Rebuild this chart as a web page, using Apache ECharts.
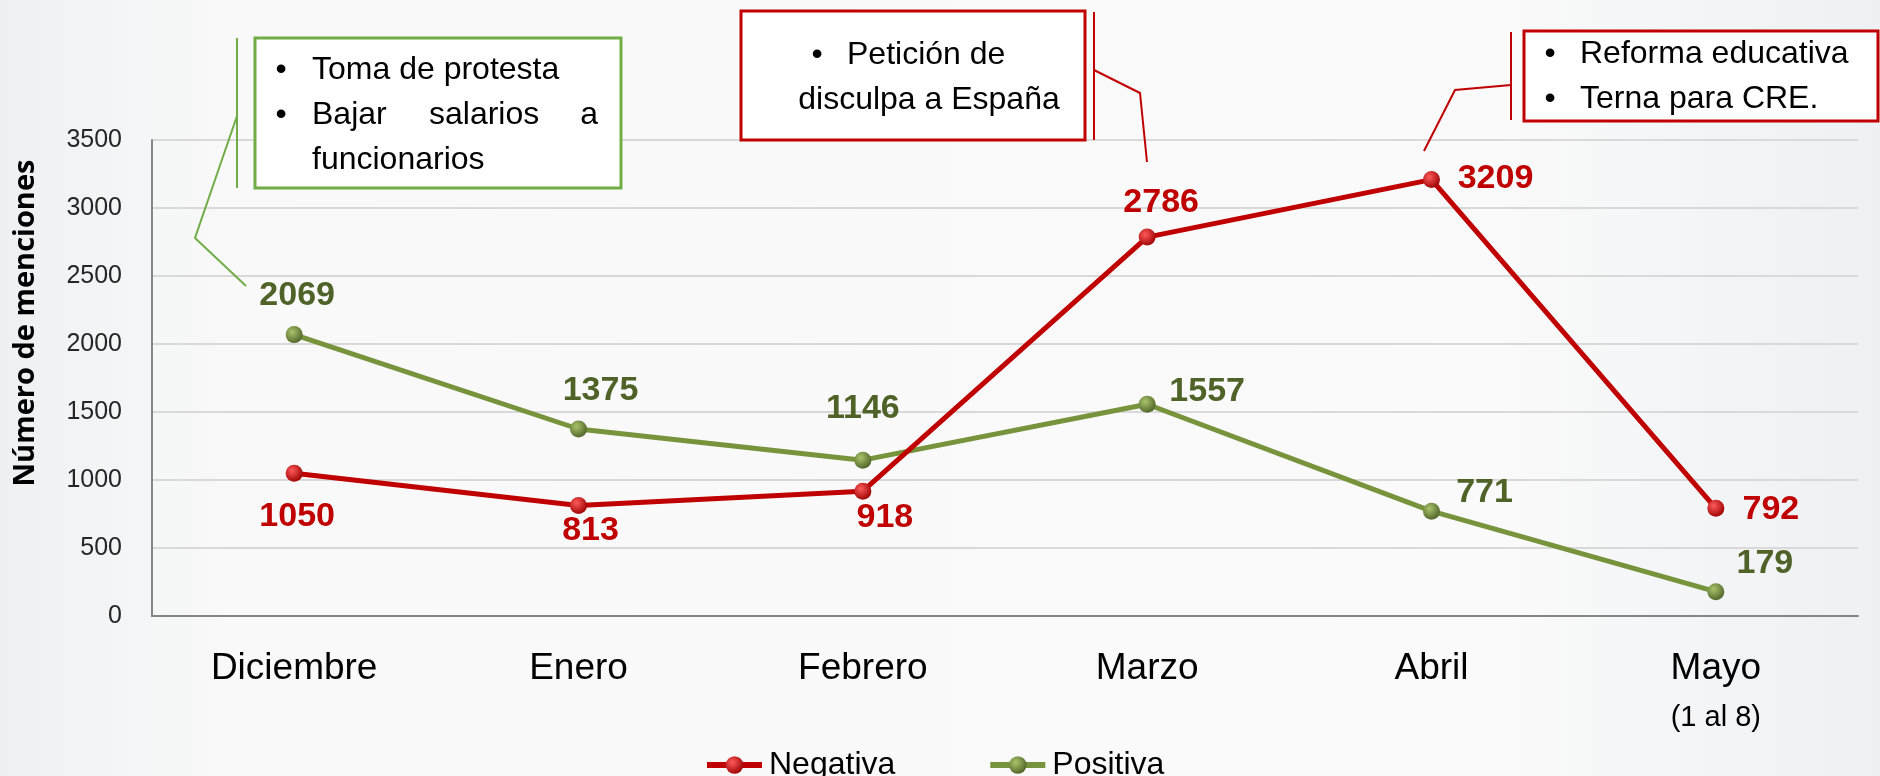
<!DOCTYPE html>
<html>
<head>
<meta charset="utf-8">
<script src="https://cdn.jsdelivr.net/npm/echarts@6/dist/echarts.min.js"></script>
<style>
html,body{margin:0;padding:0;background:#f7f8f9;}
#j_menciones_line{width:1880px;height:776px;}
</style>
</head>
<body>
<div id="j_menciones_line"></div>
<script>
// datos
var meses = ['Diciembre', 'Enero', 'Febrero', 'Marzo', 'Abril', 'Mayo'];
var negativa = [1050, 813, 918, 2786, 3209, 792];
var positiva = [2069, 1375, 1146, 1557, 771, 179];
var yTicks = [0, 500, 1000, 1500, 2000, 2500, 3000, 3500];

// desplazamiento de cada etiqueta respecto a su punto
var negLabelOffset = [[3, 43], [12, 25], [22, 26], [14, -34], [64, -1], [55, 1]];
var posLabelOffset = [[3, -39], [22, -38], [0, -52], [60, -13], [53, -19], [49, -28]];

var FONT = "'Liberation Sans', Arial, sans-serif";
var ROJO = '#c00000';
var VERDE = '#77933c';

function build_points(values, offsets) {
    var out = [];
    for (var i = 0; i < values.length; i++) {
        out.push({value: values[i], label: {offset: offsets[i]}});
    }
    return out;
}

function ball(light, dark) {
    return {
        type: 'radial', x: 0.38, y: 0.35, r: 0.7,
        colorStops: [{offset: 0, color: light}, {offset: 1, color: dark}]
    };
}

function bullet_text(x, y, str, extra) {
    var style = {text: str, x: x, y: y, fill: '#000', font: '32px ' + FONT, verticalAlign: 'middle'};
    for (var k in extra) { style[k] = extra[k]; }
    return {type: 'text', z: 20, style: style};
}

function annotations() {
    var g = [];
    // caja verde
    g.push({type: 'rect', z: 10, shape: {x: 255, y: 38, width: 366, height: 150},
        style: {fill: '#fff', stroke: '#70ad47', lineWidth: 3}});
    g.push({type: 'line', z: 10, shape: {x1: 237, y1: 38, x2: 237, y2: 188}, style: {stroke: '#70ad47', lineWidth: 2}});
    g.push({type: 'polyline', z: 10, shape: {points: [[237, 116], [195, 238], [246, 286]]},
        style: {stroke: '#70ad47', lineWidth: 2, fill: null}});
    g.push(bullet_text(281, 70, '•', {align: 'center'}));
    g.push(bullet_text(312, 70, 'Toma de protesta'));
    g.push(bullet_text(281, 115, '•', {align: 'center'}));
    g.push(bullet_text(312, 115, 'Bajar'));
    g.push(bullet_text(429, 115, 'salarios'));
    g.push(bullet_text(598, 115, 'a', {align: 'right'}));
    g.push(bullet_text(312, 160, 'funcionarios'));

    // caja roja (Marzo)
    g.push({type: 'rect', z: 10, shape: {x: 741, y: 11, width: 344, height: 129},
        style: {fill: '#fff', stroke: ROJO, lineWidth: 3}});
    g.push({type: 'line', z: 10, shape: {x1: 1094, y1: 12, x2: 1094, y2: 140}, style: {stroke: ROJO, lineWidth: 2}});
    g.push({type: 'polyline', z: 10, shape: {points: [[1094, 70], [1140, 93], [1147, 162]]},
        style: {stroke: ROJO, lineWidth: 2, fill: null}});
    g.push(bullet_text(817, 55, '•', {align: 'center'}));
    g.push(bullet_text(847, 55, 'Petición de'));
    g.push(bullet_text(929, 100, 'disculpa a España', {align: 'center'}));

    // caja roja (Abril)
    g.push({type: 'rect', z: 10, shape: {x: 1524, y: 31, width: 354, height: 90},
        style: {fill: '#fff', stroke: ROJO, lineWidth: 3}});
    g.push({type: 'line', z: 10, shape: {x1: 1511, y1: 32, x2: 1511, y2: 120}, style: {stroke: ROJO, lineWidth: 2}});
    g.push({type: 'polyline', z: 10, shape: {points: [[1511, 85], [1455, 90], [1424, 151]]},
        style: {stroke: ROJO, lineWidth: 2, fill: null}});
    g.push(bullet_text(1550, 54, '•', {align: 'center'}));
    g.push(bullet_text(1580, 54, 'Reforma educativa'));
    g.push(bullet_text(1550, 99, '•', {align: 'center'}));
    g.push(bullet_text(1580, 99, 'Terna para CRE.'));

    // titulo del eje y
    g.push({type: 'text', z: 20, x: 26, y: 323, rotation: Math.PI / 2,
        style: {text: 'Número de menciones', fill: '#000', font: "bold 29px 'Open Sans', sans-serif",
            align: 'center', verticalAlign: 'middle'}});
    return g;
}

function start_print_line() {
    var myChart = echarts.init(document.getElementById('j_menciones_line'));
    var option = {
        backgroundColor: {
            type: 'linear', x: 0, y: 0, x2: 1, y2: 0,
            colorStops: [{offset: 0, color: '#eef0f2'}, {offset: 0.12, color: '#f9f9f9'},
                {offset: 0.8, color: '#fafafa'}, {offset: 1, color: '#eef0f3'}]
        },
        animation: false,
        grid: {left: 152, right: 22, top: 140, bottom: 160},
        legend: {
            left: 699, top: 744,
            itemWidth: 55, itemHeight: 22, itemGap: 92,
            textStyle: {fontFamily: FONT, fontSize: 32, color: '#000', padding: [0, 0, 0, 2]},
            data: ['Negativa', 'Positiva']
        },
        xAxis: {
            type: 'category',
            data: meses,
            axisLine: {lineStyle: {color: '#868686', width: 2}},
            axisTick: {length: 14, lineStyle: {color: '#868686', width: 2}},
            axisLabel: {
                margin: 34, color: '#000', fontFamily: FONT, fontSize: 37,
                formatter: function (v) {
                    return v === 'Mayo' ? 'Mayo\n{sub|(1 al 8)}' : v;
                },
                rich: {sub: {fontSize: 29, fontFamily: FONT, color: '#000', padding: [16, 0, 0, 0]}}
            }
        },
        yAxis: {
            type: 'value',
            min: yTicks[0], max: yTicks[yTicks.length - 1], interval: yTicks[1] - yTicks[0],
            axisLine: {show: true, lineStyle: {color: '#868686', width: 2}},
            axisTick: {show: false},
            axisLabel: {margin: 30, color: '#262626', fontFamily: FONT, fontSize: 25,
                formatter: function (v) { return String(v); }},
            splitLine: {lineStyle: {color: '#d9d9d9', width: 2}}
        },
        series: [
            {
                name: 'Negativa',
                type: 'line',
                data: build_points(negativa, negLabelOffset),
                symbol: 'circle', symbolSize: 17,
                lineStyle: {color: ROJO, width: 5},
                itemStyle: {color: ball('#ff5a5a', '#9a0000'), borderWidth: 0},
                label: {show: true, position: 'inside', color: ROJO, fontFamily: FONT,
                    fontSize: 34, fontWeight: 'bold'},
                z: 4
            },
            {
                name: 'Positiva',
                type: 'line',
                data: build_points(positiva, posLabelOffset),
                symbol: 'circle', symbolSize: 17,
                lineStyle: {color: VERDE, width: 5},
                itemStyle: {color: ball('#a8c46a', '#4f6228'), borderWidth: 0},
                label: {show: true, position: 'inside', color: '#4f6228', fontFamily: FONT,
                    fontSize: 34, fontWeight: 'bold'},
                z: 3
            }
        ],
        graphic: annotations()
    };
    myChart.setOption(option);
    // la leyenda con linea gruesa como en el original
    myChart.setOption({
        series: [
            {name: 'Negativa', lineStyle: {width: 5}},
            {name: 'Positiva', lineStyle: {width: 5}}
        ],
        legend: {lineStyle: {width: 6}}
    });
}

start_print_line();
</script>
</body>
</html>
